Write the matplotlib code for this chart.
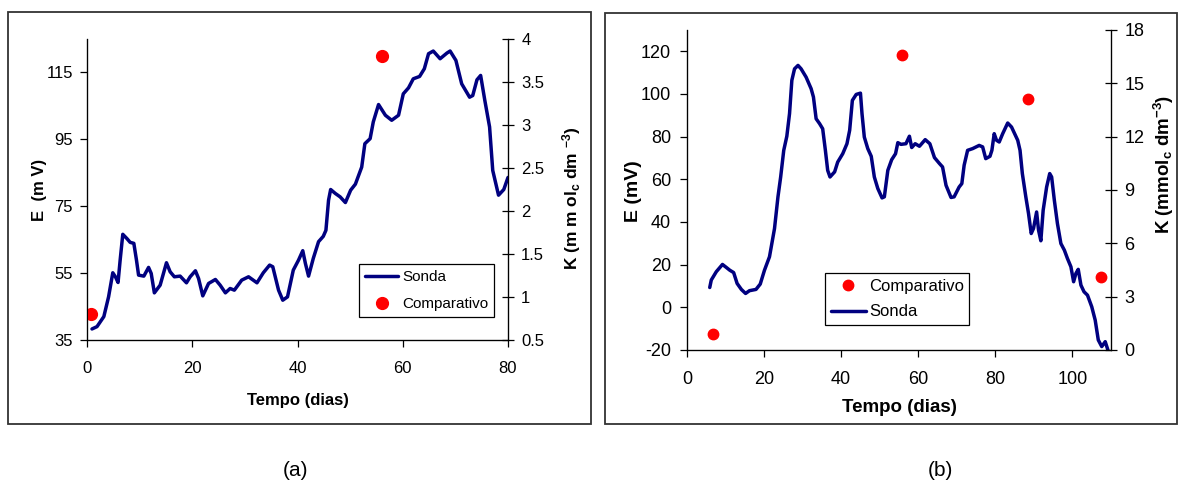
import matplotlib
matplotlib.use("Agg")
import matplotlib.pyplot as plt
from matplotlib.patches import Rectangle
from matplotlib.ticker import FuncFormatter, MultipleLocator

plt.rcParams['font.family'] = ['Liberation Sans', 'DejaVu Sans']
plt.rcParams['axes.unicode_minus'] = False
plt.rcParams['mathtext.fontset'] = 'custom'
plt.rcParams['mathtext.rm'] = 'Liberation Sans:bold'
plt.rcParams['mathtext.bf'] = 'Liberation Sans:bold'
plt.rcParams['mathtext.default'] = 'rm'

# ---------------- data: panel (a) ----------------
a_days = [0.95, 1.9, 3.2, 4.1, 4.9, 5.4, 5.9, 6.3, 6.8, 7.6, 8.2, 8.9, 9.4, 9.8,
          10.8, 11.7, 12.2, 12.8, 13.9, 15.1, 15.8, 16.6, 17.7, 18.9, 19.6, 20.6,
          21.2, 22.0, 23.1, 24.4, 25.3, 26.3, 27.2, 28.0, 29.4, 30.7, 32.3, 33.5,
          34.7, 35.3, 36.4, 37.2, 38.1, 39.2, 40.2, 41.0, 41.5, 42.1, 43.0, 44.0,
          44.9, 45.4, 45.9, 46.3, 47.2, 48.1, 49.1, 50.1, 51.0, 52.2, 52.8, 53.8,
          54.4, 55.4, 56.7, 57.9, 59.2, 60.1, 61.1, 62.0, 63.2, 64.1, 64.9, 65.8,
          67.1, 68.4, 69.0, 70.1, 71.2, 72.7, 73.3, 74.1, 74.8, 75.6, 76.5, 77.1,
          78.2, 79.2, 80.0]
a_sonda_E = [38.3, 39.0, 42.0, 47.9, 55.1, 53.9, 52.2, 58.9, 66.6, 65.3, 64.2, 63.9,
             58.9, 54.4, 54.1, 56.7, 54.9, 49.1, 51.4, 58.1, 55.4, 53.9, 54.1, 52.1,
             53.9, 55.7, 53.4, 48.2, 51.9, 53.1, 51.4, 49.1, 50.4, 49.9, 52.9, 53.9,
             52.1, 55.1, 57.4, 56.9, 49.9, 46.9, 47.9, 55.9, 58.9, 61.7, 57.9, 54.1,
             59.4, 64.4, 66.0, 67.8, 76.8, 80.0, 78.8, 77.8, 76.1, 79.8, 81.6, 86.7,
             93.7, 95.2, 100.2, 105.4, 102.2, 100.7, 102.2, 108.6, 110.4, 113.1, 113.8,
             116.1, 120.6, 121.4, 119.1, 120.8, 121.4, 118.6, 111.6, 107.6, 108.1,
             112.8, 114.1, 106.6, 98.7, 85.7, 78.3, 80.0, 83.6]
a_comp_days = [0.8, 56.0]
a_comp_K = [0.80, 3.80]

# ---------------- data: panel (b) ----------------
b_days = [5.9, 6.3, 7.6, 9.2, 10.2, 11.1, 12.1, 13.0, 14.1, 15.2, 16.2, 17.9, 19.0,
          20.1, 21.4, 22.7, 23.6, 24.3, 25.1, 25.9, 26.6, 27.2, 27.9, 28.8, 29.6,
          30.9, 32.2, 32.8, 33.5, 34.4, 35.2, 35.9, 36.5, 37.1, 38.3, 39.1, 40.4,
          41.5, 42.2, 42.9, 43.9, 45.0, 45.4, 46.0, 46.9, 47.8, 48.6, 49.5, 50.6,
          51.2, 52.1, 53.1, 54.1, 54.7, 55.5, 56.8, 57.7, 58.3, 59.2, 60.3, 61.8,
          63.0, 64.2, 65.5, 66.3, 67.2, 68.5, 69.3, 70.6, 71.3, 71.9, 72.8, 74.1,
          75.8, 76.7, 77.5, 78.6, 79.1, 79.7, 80.3, 81.0, 81.9, 83.2, 84.2, 85.8,
          86.4, 87.0, 87.9, 88.6, 89.3, 89.9, 90.7, 91.2, 91.8, 92.4, 93.3, 94.1,
          94.6, 95.3, 96.1, 97.0, 97.9, 98.7, 99.6, 100.3, 100.9, 101.5, 102.2,
          103.0, 103.9, 105.0, 105.9, 106.7, 107.6, 108.5, 109.2]
b_sonda_E = [9.3, 12.8, 16.7, 20.1, 18.7, 17.4, 16.3, 11.2, 8.4, 6.5, 7.8, 8.4, 10.9,
             17.4, 23.7, 36.9, 51.8, 61.1, 73.6, 80.2, 90.8, 106.4, 111.8, 113.4,
             111.8, 107.9, 102.5, 98.6, 88.4, 86.1, 83.7, 73.6, 64.2, 61.1, 63.5,
             68.1, 72.0, 76.7, 83.0, 97.0, 99.8, 100.4, 90.8, 79.8, 74.4, 70.8, 61.1,
             55.7, 51.3, 51.8, 64.2, 69.2, 72.0, 77.2, 76.4, 76.7, 80.2, 74.9, 76.7,
             75.5, 78.6, 76.7, 70.2, 67.4, 65.8, 57.2, 51.5, 51.8, 56.4, 58.0, 66.6,
             73.6, 74.4, 75.9, 75.2, 69.7, 70.8, 73.6, 81.4, 78.3, 77.5, 81.4, 86.4,
             84.5, 78.3, 73.6, 62.7, 51.8, 44.0, 34.6, 37.0, 44.7, 36.2, 31.2, 45.5,
             56.4, 62.7, 61.1, 50.2, 39.3, 29.9, 26.8, 22.9, 19.0, 12.0, 15.9, 17.8,
             10.4, 7.3, 5.7, 0.3, -6.0, -15.3, -18.4, -16.1, -20.0]
b_comp_days = [6.7, 55.7, 88.4, 107.5]
b_comp_K = [0.88, 16.58, 14.1, 4.08]

# ---------------- styling ----------------
W, H = 1178, 483
NAVY = '#000080'
RED = '#FF0000'
fmt = FuncFormatter(lambda v, p: '%g' % v)

fig = plt.figure(figsize=(W / 100, H / 100), dpi=100)


def frac(x0, x1, ytop, ybot):
    return [x0 / W, (H - ybot) / H, (x1 - x0) / W, (ybot - ytop) / H]


def style_axes(ax, ax2, tick_fs, pad_l, pad_b, pad_r):
    ax.spines['top'].set_visible(False)
    ax2.spines['top'].set_visible(False)
    for s in ('left', 'bottom'):
        ax.spines[s].set_linewidth(0.9)
    ax2.spines['right'].set_linewidth(0.9)
    ax.tick_params(axis='y', direction='out', length=5, width=0.9,
                   labelsize=tick_fs, pad=pad_l)
    ax.tick_params(axis='x', direction='out', length=5, width=0.9,
                   labelsize=tick_fs, pad=pad_b)
    ax2.tick_params(axis='y', direction='inout', length=9, width=0.9,
                    labelsize=tick_fs, pad=pad_r)
    ax.yaxis.set_major_formatter(fmt)
    ax2.yaxis.set_major_formatter(fmt)
    ax.patch.set_visible(False)


# ================= panel (a) =================
axa = fig.add_axes(frac(87, 508, 39, 340))
axa2 = axa.twinx()
axa.set_zorder(1)
axa2.set_zorder(2)
axa2.patch.set_visible(False)
la, = axa.plot(a_days, a_sonda_E, color=NAVY, lw=2.5, solid_joinstyle='round',
               solid_capstyle='round')
da, = axa2.plot(a_comp_days, a_comp_K, 'o', color=RED, ms=8.5, mec=RED)
axa.set_xlim(0, 80)
axa.set_ylim(35, 125)
axa.xaxis.set_major_locator(MultipleLocator(20))
axa.set_yticks([35, 55, 75, 95, 115])
axa2.set_ylim(0.5, 4)
axa2.yaxis.set_major_locator(MultipleLocator(0.5))
style_axes(axa, axa2, 12, 5, 10, 5)

axa.set_xlabel('Tempo (dias)', fontsize=12, fontweight='bold')
axa.xaxis.set_label_coords(0.5, -0.176)
axa.set_ylabel('E  (m V)', fontsize=12, fontweight='bold')
axa.yaxis.set_label_coords(-0.114, 0.498)
axa.yaxis.label.set_va('center')
axa2.set_ylabel(r'K (m m ol$_{c}$ dm $^{-3}$)', fontsize=12.5, fontweight='bold')
axa2.yaxis.set_label_coords(1.150, 0.472)
axa2.yaxis.label.set_va('center')

axa2.legend([la, da], ['Sonda', 'Comparativo'], loc='upper left',
            bbox_to_anchor=(359 / W, (H - 264) / H), bbox_transform=fig.transFigure,
            borderaxespad=0, fontsize=11, frameon=True, fancybox=False,
            edgecolor='black', framealpha=1, handlelength=2.16, handletextpad=0.26,
            labelspacing=0.85, borderpad=0.4, numpoints=1).get_frame().set_linewidth(0.9)

# ================= panel (b) =================
axb = fig.add_axes(frac(687, 1111, 30, 350))
axb2 = axb.twinx()
axb.set_zorder(1)
axb2.set_zorder(2)
axb2.patch.set_visible(False)
lb, = axb.plot(b_days, b_sonda_E, color=NAVY, lw=2.5, solid_joinstyle='round',
               solid_capstyle='round')
db, = axb2.plot(b_comp_days, b_comp_K, 'o', color=RED, ms=7.5, mec=RED)
axb.set_xlim(0, 110)
axb.set_xticks([0, 20, 40, 60, 80, 100])
axb.set_ylim(-20, 130)
axb.set_yticks([-20, 0, 20, 40, 60, 80, 100, 120])
axb2.set_ylim(0, 18)
axb2.yaxis.set_major_locator(MultipleLocator(3))
style_axes(axb, axb2, 13, 6.5, 10, 5)

axb.set_xlabel('Tempo (dias)', fontsize=13.5, fontweight='bold')
axb.xaxis.set_label_coords(0.5, -0.153)
axb.set_ylabel('E (mV)', fontsize=14, fontweight='bold')
axb.yaxis.set_label_coords(-0.127, 0.497)
axb.yaxis.label.set_va('center')
axb2.set_ylabel(r'K (mmol$_{c}$ dm$^{-3}$)', fontsize=13.5, fontweight='bold')
axb2.yaxis.set_label_coords(1.126, 0.581)
axb2.yaxis.label.set_va('center')

axb2.legend([db, lb], ['Comparativo', 'Sonda'], loc='upper left',
            bbox_to_anchor=(825 / W, (H - 273) / H), bbox_transform=fig.transFigure,
            borderaxespad=0, fontsize=12, frameon=True, fancybox=False,
            edgecolor='black', framealpha=1, handlelength=2.1, handletextpad=0.2,
            labelspacing=0.66, borderpad=0.33, numpoints=1).get_frame().set_linewidth(0.9)

# ================= outer boxes and panel letters =================
fig.add_artist(Rectangle((8 / W, (H - 424) / H), 583 / W, 412 / H, transform=fig.transFigure,
                         fill=False, ec='#333333', lw=1.3))
fig.add_artist(Rectangle((605 / W, (H - 424) / H), 572 / W, 411 / H, transform=fig.transFigure,
                         fill=False, ec='#333333', lw=1.3))
fig.text(296 / W, (H - 470) / H, '(a)', fontsize=15, ha='center', va='center')
fig.text(940 / W, (H - 470) / H, '(b)', fontsize=15, ha='center', va='center')

fig.savefig('out.png', dpi=100, facecolor='white')
